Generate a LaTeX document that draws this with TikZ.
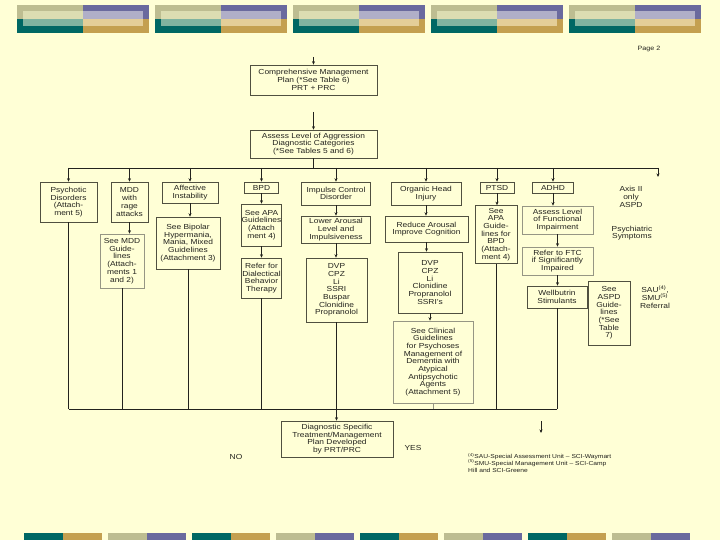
\documentclass[tikz,border=0pt]{standalone}
\usepackage{fontspec}
\setmainfont{Liberation Sans}[FakeStretch=1.15]
\usetikzlibrary{arrows.meta}
\definecolor{paperBg}{RGB}{255,255,214}
\definecolor{hdKhaki}{RGB}{189,189,145}
\definecolor{hdPurple}{RGB}{106,106,158}
\definecolor{hdTeal}{RGB}{0,104,100}
\definecolor{hdGold}{RGB}{196,160,80}
\definecolor{hdPale}{RGB}{220,221,178}
\definecolor{hdLavender}{RGB}{176,175,200}
\definecolor{hdLightTeal}{RGB}{128,180,160}
\definecolor{hdLightGold}{RGB}{228,206,152}
\definecolor{flowInk}{RGB}{35,35,30}
\definecolor{boxEdge}{RGB}{80,80,64}
\definecolor{boxEdgeLight}{RGB}{150,150,132}
\newcommand{\chartfont}{\fontsize{7.3}{7.7}\selectfont}
\newcommand{\notefont}{\fontsize{5.8}{6.8}\selectfont}
\begin{document}
\begin{tikzpicture}[x=1pt, y=-1pt,
  box/.style={draw=boxEdge, line width=0.6pt, fill=paperBg, align=center, inner sep=0pt, font=\chartfont, text=flowInk},
  lightbox/.style={box, draw=boxEdgeLight},
  boxsize/.style 2 args={minimum width=#1pt, minimum height=#2pt},
  plaintext/.style={align=center, inner sep=0pt, font=\chartfont, text=flowInk},
  flowline/.style={draw=flowInk, line width=0.7pt},
  flowarrow/.style={flowline, -{Stealth[length=3.5pt, width=3pt]}}]
% Page and bounding box
\fill[paperBg] (0,0) rectangle (720,540);
\useasboundingbox (0,0) rectangle (720,540);
% Header bar: outer blocks
\begin{scope}[fill=hdKhaki]
  \fill (17,5) rectangle ++(66,14);
  \fill (155,5) rectangle ++(66,14);
  \fill (293,5) rectangle ++(66,14);
  \fill (431,5) rectangle ++(66,14);
  \fill (569,5) rectangle ++(66,14);
\end{scope}
\begin{scope}[fill=hdPurple]
  \fill (83,5) rectangle ++(66,14);
  \fill (221,5) rectangle ++(66,14);
  \fill (359,5) rectangle ++(66,14);
  \fill (497,5) rectangle ++(66,14);
  \fill (635,5) rectangle ++(66,14);
\end{scope}
\begin{scope}[fill=hdTeal]
  \fill (17,19) rectangle ++(66,14);
  \fill (155,19) rectangle ++(66,14);
  \fill (293,19) rectangle ++(66,14);
  \fill (431,19) rectangle ++(66,14);
  \fill (569,19) rectangle ++(66,14);
\end{scope}
\begin{scope}[fill=hdGold]
  \fill (83,19) rectangle ++(66,14);
  \fill (221,19) rectangle ++(66,14);
  \fill (359,19) rectangle ++(66,14);
  \fill (497,19) rectangle ++(66,14);
  \fill (635,19) rectangle ++(66,14);
\end{scope}
% Header bar: inner lighter bands
\begin{scope}[fill=hdPale]
  \fill (23,11) rectangle ++(60,8);
  \fill (161,11) rectangle ++(60,8);
  \fill (299,11) rectangle ++(60,8);
  \fill (437,11) rectangle ++(60,8);
  \fill (575,11) rectangle ++(60,8);
\end{scope}
\begin{scope}[fill=hdLavender]
  \fill (83,11) rectangle ++(60,8);
  \fill (221,11) rectangle ++(60,8);
  \fill (359,11) rectangle ++(60,8);
  \fill (497,11) rectangle ++(60,8);
  \fill (635,11) rectangle ++(60,8);
\end{scope}
\begin{scope}[fill=hdLightTeal]
  \fill (23,19) rectangle ++(60,7);
  \fill (161,19) rectangle ++(60,7);
  \fill (299,19) rectangle ++(60,7);
  \fill (437,19) rectangle ++(60,7);
  \fill (575,19) rectangle ++(60,7);
\end{scope}
\begin{scope}[fill=hdLightGold]
  \fill (83,19) rectangle ++(60,7);
  \fill (221,19) rectangle ++(60,7);
  \fill (359,19) rectangle ++(60,7);
  \fill (497,19) rectangle ++(60,7);
  \fill (635,19) rectangle ++(60,7);
\end{scope}
% Footer bar
\begin{scope}[fill=hdTeal]
  \fill (24,533) rectangle ++(39,7);
  \fill (192,533) rectangle ++(39,7);
  \fill (360,533) rectangle ++(39,7);
  \fill (528,533) rectangle ++(39,7);
\end{scope}
\begin{scope}[fill=hdGold]
  \fill (63,533) rectangle ++(39,7);
  \fill (231,533) rectangle ++(39,7);
  \fill (399,533) rectangle ++(39,7);
  \fill (567,533) rectangle ++(39,7);
\end{scope}
\begin{scope}[fill=hdKhaki]
  \fill (108,533) rectangle ++(39,7);
  \fill (276,533) rectangle ++(39,7);
  \fill (444,533) rectangle ++(39,7);
  \fill (612,533) rectangle ++(39,7);
\end{scope}
\begin{scope}[fill=hdPurple]
  \fill (147,533) rectangle ++(39,7);
  \fill (315,533) rectangle ++(39,7);
  \fill (483,533) rectangle ++(39,7);
  \fill (651,533) rectangle ++(39,7);
\end{scope}
\node[plaintext, font=\fontsize{6.2}{7}\selectfont] (page) at (649,49) {Page 2};
% Upper boxes
\node[box, boxsize={127}{30}] (comp) at (313.5,80) {Comprehensive Management\\Plan (*See Table 6)\\PRT + PRC};
\node[box, boxsize={127}{28}] (assess) at (313.5,144) {Assess Level of Aggression\\Diagnostic Categories\\(*See Tables 5 and 6)};
% Diagnostic columns
\node[box, boxsize={57}{40}] (psy) at (68.5,202) {Psychotic\\Disorders\\(Attach-\\ment 5)};
\node[box, boxsize={37}{40}] (mdd) at (129.5,202) {MDD\\with\\rage\\attacks};
\node[lightbox, boxsize={44}{54}] (seeMdd) at (122,261) {See MDD\\Guide-\\lines\\(Attach-\\ments 1\\and 2)};
\node[box, boxsize={56}{21}] (aff) at (190,192.5) {Affective\\Instability};
\node[box, boxsize={64}{52}] (bipolar) at (188,243) {See Bipolar\\Hypermania,\\Mania, Mixed\\Guidelines\\(Attachment 3)};
\node[box, boxsize={34}{11}] (bpd) at (261.5,187.5) {BPD};
\node[box, boxsize={40}{42}] (apaBpd) at (261.5,225) {See APA\\Guidelines\\(Attach\\ment 4)};
\node[box, boxsize={40}{40}] (dbt) at (261.5,278) {Refer for\\Dialectical\\Behavior\\Therapy};
\node[box, boxsize={69}{23}] (imp) at (336,193.5) {Impulse Control\\Disorder};
\node[box, boxsize={69}{27}] (lower) at (336,229.5) {Lower Arousal\\Level and\\Impulsiveness};
\node[box, boxsize={61}{64}] (drugsA) at (336.5,290) {DVP\\CPZ\\Li\\SSRI\\Buspar\\Clonidine\\Propranolol};
\node[box, boxsize={70}{23}] (organic) at (426,193.5) {Organic Head\\Injury};
\node[box, boxsize={83}{26}] (reduce) at (426.5,229) {Reduce Arousal\\Improve Cognition};
\node[box, boxsize={64}{61}] (drugsB) at (430,282.5) {DVP\\CPZ\\Li\\Clonidine\\Propranolol\\SSRI's};
\node[lightbox, boxsize={80}{82}] (clinical) at (433,362) {See Clinical\\Guidelines\\for Psychoses\\Management of\\Dementia with\\Atypical\\Antipsychotic\\Agents\\(Attachment 5)};
\node[box, boxsize={34}{11}] (ptsd) at (497,187.5) {PTSD};
\node[box, boxsize={42}{58}] (apaPtsd) at (496,234.5) {See\\APA\\Guide-\\lines for\\BPD\\(Attach-\\ment 4)};
\node[box, boxsize={41}{11}] (adhd) at (553,187.5) {ADHD};
\node[lightbox, boxsize={71}{28}] (func) at (557.5,220) {Assess Level\\of Functional\\Impairment};
\node[lightbox, boxsize={71}{28}] (ftc) at (557.5,261) {Refer to FTC\\if Significantly\\Impaired};
\node[box, boxsize={60}{22}] (well) at (557,297) {Wellbutrin\\Stimulants};
\node[box, boxsize={42}{64}] (aspd) at (609,313) {See\\ASPD\\Guide-\\lines\\(*See\\Table\\7)};
\node[plaintext] (axis) at (631,197) {Axis II\\only\\ASPD};
\node[plaintext] (psySym) at (632,233) {Psychiatric\\Symptoms};
\node[plaintext] (sau) at (655,297) {SAU\textsuperscript{(4)},\\SMU\textsuperscript{(5)}\\Referral};
% Final box and outcomes
\node[box, boxsize={112}{36}] (final) at (337,439) {Diagnostic Specific\\Treatment/Management\\Plan Developed\\by PRT/PRC};
\node[plaintext] (no) at (236,457) {NO};
\node[plaintext] (yes) at (413,448) {YES};
\node[plaintext, font=\notefont, align=left, anchor=north west] (notes) at (468,453) {\textsuperscript{(4)}SAU-Special Assessment Unit -- SCI-Waymart\\\textsuperscript{(5)}SMU-Special Management Unit -- SCI-Camp\\Hill and SCI-Greene};
% Coordinates for free ends and buses
\coordinate (topIn) at (313.5,57);
\coordinate (midIn) at (313.5,112);
\coordinate (busTopL) at (68.5,168);
\coordinate (busTopR) at (658,168);
\coordinate (axisIn) at (658,177);
\coordinate (busBotL) at (68.5,409);
\coordinate (busBotR) at (557,409);
\coordinate (noteTop) at (541,421);
\coordinate (noteEnd) at (541,433);
% Top connectors
\draw[flowarrow] (topIn) -- (comp.north);
\draw[flowarrow] (midIn) -- (assess.north);
\draw[flowline] (assess.south) -- (assess.south |- busTopL);
\draw[flowline] (busTopL) -- (busTopR);
\draw[flowarrow] (busTopR) -- (axisIn);
\draw[flowarrow] (psy.north |- busTopL) -- (psy.north);
\draw[flowarrow] (mdd.north |- busTopL) -- (mdd.north);
\draw[flowarrow] (aff.north |- busTopL) -- (aff.north);
\draw[flowarrow] (bpd.north |- busTopL) -- (bpd.north);
\draw[flowarrow] (imp.north |- busTopL) -- (imp.north);
\draw[flowarrow] (organic.north |- busTopL) -- (organic.north);
\draw[flowarrow] (ptsd.north |- busTopL) -- (ptsd.north);
\draw[flowarrow] (adhd.north |- busTopL) -- (adhd.north);
% Column connectors
\draw[flowarrow] (mdd.south) -- (mdd.south |- seeMdd.north);
\draw[flowarrow] (aff.south) -- (aff.south |- bipolar.north);
\draw[flowarrow] (bpd.south) -- (bpd.south |- apaBpd.north);
\draw[flowarrow] (apaBpd.south) -- (apaBpd.south |- dbt.north);
\draw[flowarrow] (imp.south) -- (imp.south |- lower.north);
\draw[flowarrow] (lower.south) -- (lower.south |- drugsA.north);
\draw[flowarrow] (organic.south) -- (organic.south |- reduce.north);
\draw[flowarrow] (reduce.south) -- (reduce.south |- drugsB.north);
\draw[flowarrow] (drugsB.south) -- (drugsB.south |- clinical.north);
\draw[flowarrow] (ptsd.south) -- (ptsd.south |- apaPtsd.north);
\draw[flowarrow] (adhd.south) -- (adhd.south |- func.north);
\draw[flowarrow] (func.south) -- (func.south |- ftc.north);
\draw[flowarrow] (ftc.south) -- (ftc.south |- well.north);
% Bottom bus
\draw[flowline] (busBotL) -- (busBotR);
\draw[flowline] (psy.south) -- (psy.south |- busBotL);
\draw[flowline] (seeMdd.south) -- (seeMdd.south |- busBotL);
\draw[flowline] (bipolar.south) -- (bipolar.south |- busBotL);
\draw[flowline] (dbt.south) -- (dbt.south |- busBotL);
\draw[flowline, draw=boxEdgeLight, line width=0.5pt] (clinical.south) -- (clinical.south |- busBotL);
\draw[flowline] (apaPtsd.south) -- (apaPtsd.south |- busBotL);
\draw[flowline] (well.south) -- (well.south |- busBotL);
\draw[flowarrow] (drugsA.south) -- (drugsA.south |- final.north);
\draw[flowarrow] (noteTop) -- (noteEnd);
\end{tikzpicture}
\end{document}
